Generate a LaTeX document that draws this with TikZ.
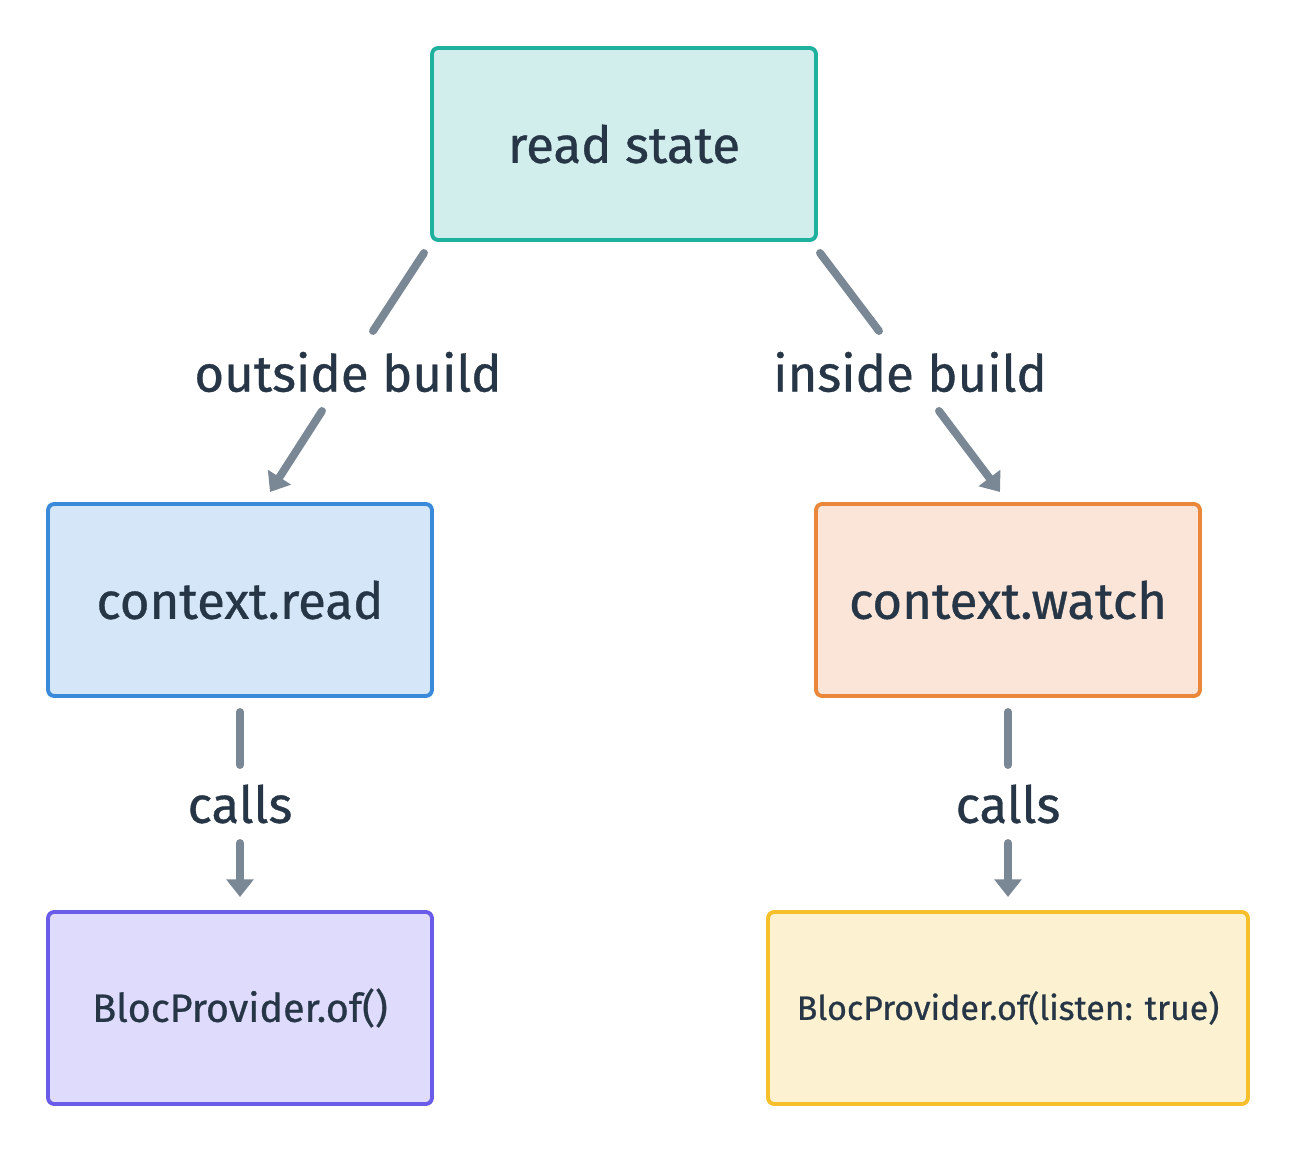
\documentclass[tikz,border=0pt]{standalone}
\usepackage{fontspec}
\setmainfont{Fira Sans}[UprightFeatures={FakeBold=0.7}]
\usetikzlibrary{arrows.meta}
\definecolor{ink}{HTML}{263646}
\definecolor{wire}{HTML}{7A8795}
\definecolor{tealline}{HTML}{1FB09E}
\definecolor{tealfill}{HTML}{D1EEEC}
\definecolor{blueline}{HTML}{3A8ADA}
\definecolor{bluefill}{HTML}{D4E6F7}
\definecolor{orangeline}{HTML}{E9883A}
\definecolor{orangefill}{HTML}{FBE5D8}
\definecolor{purpleline}{HTML}{6B5CE8}
\definecolor{purplefill}{HTML}{DFDBFC}
\definecolor{yellowline}{HTML}{F5C02C}
\definecolor{yellowfill}{HTML}{FCF1D1}
\tikzset{
  box/.style = {draw, line width=2.2pt, rounded corners=3.5pt, text=ink,
    minimum width=7.68cm, minimum height=3.84cm},
  lbl/.style = {text=ink, font=\fontsize{29}{34}\selectfont},
  link/.style = {draw=wire, line width=4.5pt, line cap=round},
  tip/.style = {link, -{Triangle[width=15pt, length=10pt]}}
}
\begin{document}
\begin{tikzpicture}[x=0.02cm, y=-0.02cm]
    \useasboundingbox (0,0) rectangle (1296,1152);
    % boxes
    \node[box, draw=tealline, fill=tealfill, font=\fontsize{29}{34}\selectfont] (read) at (624,144) {read state};
    \node[box, draw=blueline, fill=bluefill, font=\fontsize{29}{34}\selectfont] (ctxread) at (240,600) {context.read};
    \node[box, draw=orangeline, fill=orangefill, font=\fontsize{29}{34}\selectfont] (ctxwatch) at (1008,600) {context.watch};
    \node[box, draw=purpleline, fill=purplefill, font=\fontsize{22.5}{27}\selectfont] (ofplain) at (240,1008) {BlocProvider.of()};
    \node[box, draw=yellowline, fill=yellowfill, minimum width=9.6cm, font=\fontsize{19.3}{23}\selectfont] (oflisten) at (1008,1008) {BlocProvider.of(listen: true)};
    % labels
    \node[lbl] (outside) at (348,372) {outside build};
    \node[lbl] (inside) at (910,372) {inside build};
    \node[lbl] (callsl) at (240,804) {calls};
    \node[lbl] (callsr) at (1008,804) {calls};
    % wire ends
    \coordinate (rl1) at (424,253);
    \coordinate (rl2) at (373,331);
    \coordinate (ol1) at (322,411);
    \coordinate (ol2) at (270,492);
    \coordinate (rr1) at (820,253);
    \coordinate (rr2) at (879,331);
    \coordinate (ir1) at (939,411);
    \coordinate (ir2) at (1000,492);
    \coordinate (cl1) at (240,712);
    \coordinate (cl2) at (240,765);
    \coordinate (cl3) at (240,843);
    \coordinate (cl4) at (240,897);
    \coordinate (cr1) at (1008,712);
    \coordinate (cr2) at (1008,765);
    \coordinate (cr3) at (1008,843);
    \coordinate (cr4) at (1008,897);
    % connectors
    \draw[link] (rl1) -- (rl2);
    \draw[tip] (ol1) -- (ol2);
    \draw[link] (rr1) -- (rr2);
    \draw[tip] (ir1) -- (ir2);
    \draw[link] (cl1) -- (cl2);
    \draw[tip] (cl3) -- (cl4);
    \draw[link] (cr1) -- (cr2);
    \draw[tip] (cr3) -- (cr4);
\end{tikzpicture}
\end{document}
